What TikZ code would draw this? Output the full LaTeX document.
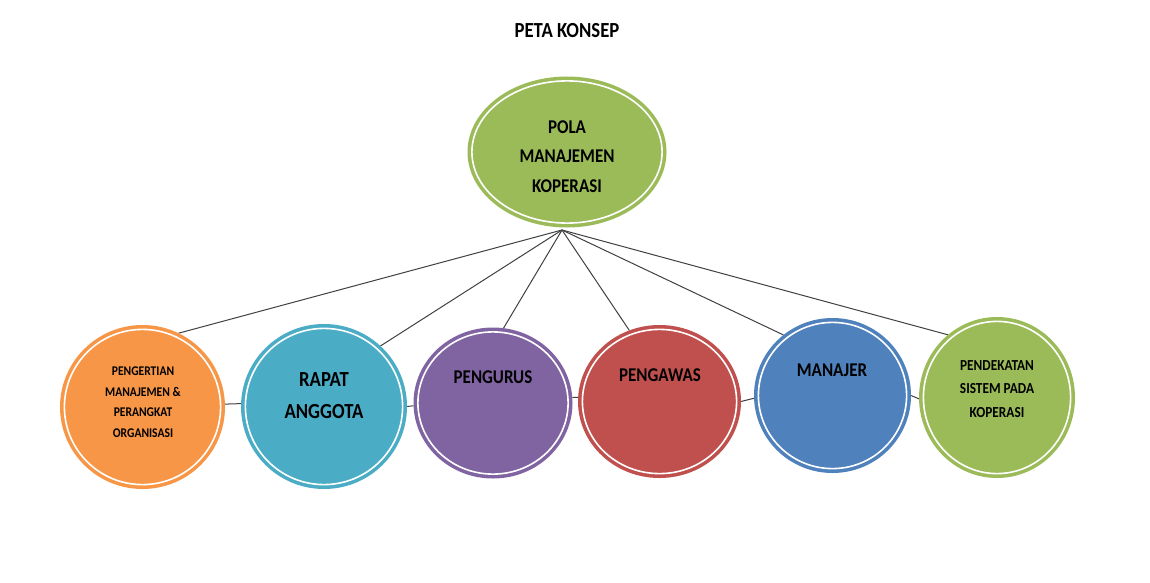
\documentclass[tikz,border=0pt]{standalone}
\usepackage{fontspec}
\setmainfont{Carlito}[FakeStretch=0.87]
\usetikzlibrary{shapes.geometric,backgrounds}
\definecolor{cOrange}{HTML}{F79646}
\definecolor{cTeal}{HTML}{4BACC6}
\definecolor{cPurple}{HTML}{8064A2}
\definecolor{cRed}{HTML}{C0504D}
\definecolor{cBlue}{HTML}{4F81BD}
\definecolor{cGreen}{HTML}{9BBB59}
\definecolor{lineCol}{HTML}{404040}
\tikzset{
  bubble/.style={ellipse, draw=#1, fill=#1, line width=3.6pt, double=white,
    double distance=1.6pt, outer sep=4.4pt, inner sep=0pt},
  lbl/.style={inner sep=0pt, outer sep=0pt, font=\bfseries, text=black, align=center},
  link/.style={draw=lineCol, line width=1pt},
}
\begin{document}
\begin{tikzpicture}[x=1pt,y=-1pt]
\useasboundingbox (0,0) rectangle (1150,583);
% title
\node[lbl, anchor=base, font=\bfseries\fontsize{21.5}{24}\selectfont] (title) at (567,38) {PETA KONSEP};
% top node
\node[bubble=cGreen, minimum width=190.2pt, minimum height=142.2pt] (top) at (567,152) {};
\node[lbl, font=\bfseries\fontsize{19.5}{29.5}\selectfont] (ttop) at (567,156.4) {POLA\\MANAJEMEN\\KOPERASI};
% bottom nodes
\node[bubble=cOrange, minimum width=156.2pt, minimum height=155.2pt] (c1) at (142.5,407) {};
\node[bubble=cTeal,   minimum width=157.2pt, minimum height=156.2pt] (c2) at (324,406.5) {};
\node[bubble=cPurple, minimum width=150.2pt, minimum height=142.2pt] (c3) at (493,403) {};
\node[bubble=cRed,    minimum width=154.2pt, minimum height=144.2pt] (c4) at (659.5,401.5) {};
\node[bubble=cBlue,   minimum width=148.2pt, minimum height=146.2pt] (c5) at (832.5,395.5) {};
\node[bubble=cGreen,  minimum width=147.2pt, minimum height=152.2pt] (c6) at (997,397.5) {};
% labels
\node[lbl, font=\bfseries\fontsize{13.3}{20.5}\selectfont] (t1) at (143,402.4) {PENGERTIAN\\MANAJEMEN \&\\PERANGKAT\\ORGANISASI};
\node[lbl, font=\bfseries\fontsize{21.5}{32}\selectfont] (t2) at (324,395.2) {RAPAT\\ANGGOTA};
\node[lbl, anchor=base, font=\bfseries\fontsize{19.5}{24}\selectfont] (t3) at (493,383) {PENGURUS};
\node[lbl, anchor=base, font=\bfseries\fontsize{19.5}{24}\selectfont] (t4) at (660,381) {PENGAWAS};
\node[lbl, anchor=base, font=\bfseries\fontsize{19.5}{24}\selectfont] (t5) at (832,376) {MANAJER};
\node[lbl, font=\bfseries\fontsize{15.3}{23.5}\selectfont] (t6) at (997,388.75) {PENDEKATAN\\SISTEM PADA\\KOPERASI};
% connectors
\coordinate (apex) at (562,230);
\begin{scope}[on background layer]
\draw[link] (apex) -- (c1.64.7);
\draw[link] (apex) -- (c2.47.7);
\draw[link] (apex) -- (c3.82.5);
\draw[link] (apex) -- (c4.113);
\draw[link] (apex) -- (c5.129);
\draw[link] (apex) -- (c6.128.8);
\draw[link] (c1.2) -- (c2.178);
\draw[link] (c2.east) -- (c3.182);
\draw[link] (c3.4) -- (c4.177);
\draw[link] (c4.east) -- (c5.182);
\draw[link] (c5.east) -- (c6.181);
\end{scope}
\end{tikzpicture}
\end{document}
